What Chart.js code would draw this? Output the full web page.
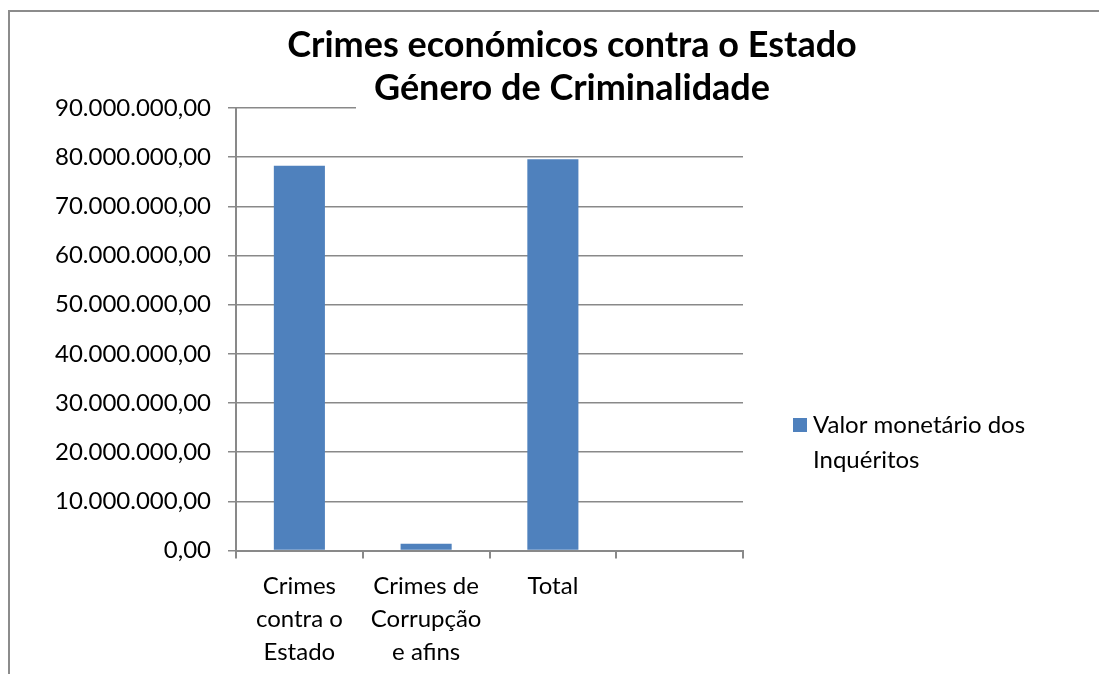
<!DOCTYPE html>
<html>
<head>
<meta charset="utf-8">
<script src="https://cdn.jsdelivr.net/npm/chart.js@4"></script>
<style>
  html, body { margin: 0; padding: 0; background: #fff; }
  #wrap { width: 1099px; height: 674px; position: relative; }
</style>
</head>
<body>
<div id="wrap"><canvas id="c" width="1099" height="674"></canvas></div>
<script>
const categories = [["Crimes", "contra o", "Estado"], ["Crimes de", "Corrupção", "e afins"], "Total", ""];
const seriesLabel = "Valor monetário dos Inquéritos";
const seriesValues = [78250000, 1350000, 79600000, null];
const titleLines = ["Crimes económicos contra o Estado", "Género de Criminalidade"];
const yMin = 0, yMax = 90000000, yStep = 10000000;

const FONT = "Lato, Carlito, Calibri, sans-serif";
const BAR = "#4F81BD";
const GRID = "#898989";

function fmt(v) {
  const parts = Math.abs(v).toFixed(2).split(".");
  const int = parts[0].replace(/\B(?=(\d{3})+(?!\d))/g, ".");
  return (v < 0 ? "-" : "") + int + "," + parts[1];
}

const decor = {
  id: "decor",
  beforeDraw(chart) {
    const ctx = chart.ctx;
    ctx.save();
    ctx.fillStyle = "#fff";
    ctx.fillRect(0, 0, chart.width, chart.height);
    ctx.strokeStyle = "#8c8c8c";
    ctx.lineWidth = 2;
    ctx.beginPath();
    ctx.moveTo(9, chart.height + 2);
    ctx.lineTo(9, 11);
    ctx.lineTo(chart.width + 2, 11);
    ctx.stroke();
    ctx.restore();
  },
  afterDraw(chart) {
    const ctx = chart.ctx;
    ctx.save();
    // title box (covers top gridline like the original)
    ctx.fillStyle = "#fff";
    ctx.fillRect(356, 18, 436, 94);
    ctx.fillStyle = "#000";
    ctx.font = "bold 36px " + FONT;
    ctx.textAlign = "center";
    ctx.textBaseline = "middle";
    ctx.fillText(titleLines[0], 572, 45);
    ctx.fillText(titleLines[1], 572, 88);
    // legend
    const ds = chart.data.datasets[0];
    ctx.fillStyle = ds.backgroundColor;
    ctx.fillRect(793, 418, 14, 14);
    ctx.fillStyle = "#000";
    ctx.font = "24px " + FONT;
    ctx.textAlign = "left";
    ctx.textBaseline = "middle";
    const words = ds.label.split(" ");
    ctx.fillText(words.slice(0, 3).join(" "), 813, 425);
    ctx.fillText(words.slice(3).join(" "), 813, 460);
    ctx.restore();
  }
};

new Chart(document.getElementById("c"), {
  type: "bar",
  data: {
    labels: categories,
    datasets: [{
      label: seriesLabel,
      data: seriesValues,
      backgroundColor: BAR,
      borderWidth: 0,
      categoryPercentage: 1.0,
      barPercentage: 0.403
    }]
  },
  options: {
    responsive: false,
    animation: false,
    devicePixelRatio: 1,
    layout: { padding: { left: 0, right: 356, top: 108, bottom: 0 } },
    plugins: { legend: { display: false }, title: { display: false }, tooltip: { enabled: false } },
    scales: {
      x: {
        grid: { display: true, drawOnChartArea: false, drawTicks: true, tickLength: 8, color: GRID, lineWidth: 2, offset: true },
        border: { display: true, color: GRID, width: 2 },
        ticks: { color: "#000", font: { family: FONT, size: 24, lineHeight: 1.375 }, padding: 11, maxRotation: 0, autoSkip: false },
        afterFit(s) { s.height = 674 - 550.5; }
      },
      y: {
        min: yMin, max: yMax,
        grid: { color: GRID, lineWidth: 1.5, tickLength: 8, drawTicks: true },
        border: { display: true, color: GRID, width: 2 },
        ticks: { stepSize: yStep, color: "#000", font: { family: FONT, size: 24 }, padding: 17, callback: v => fmt(v) },
        afterFit(s) { s.width = 236; }
      }
    }
  },
  plugins: [decor]
});
</script>
</body>
</html>
